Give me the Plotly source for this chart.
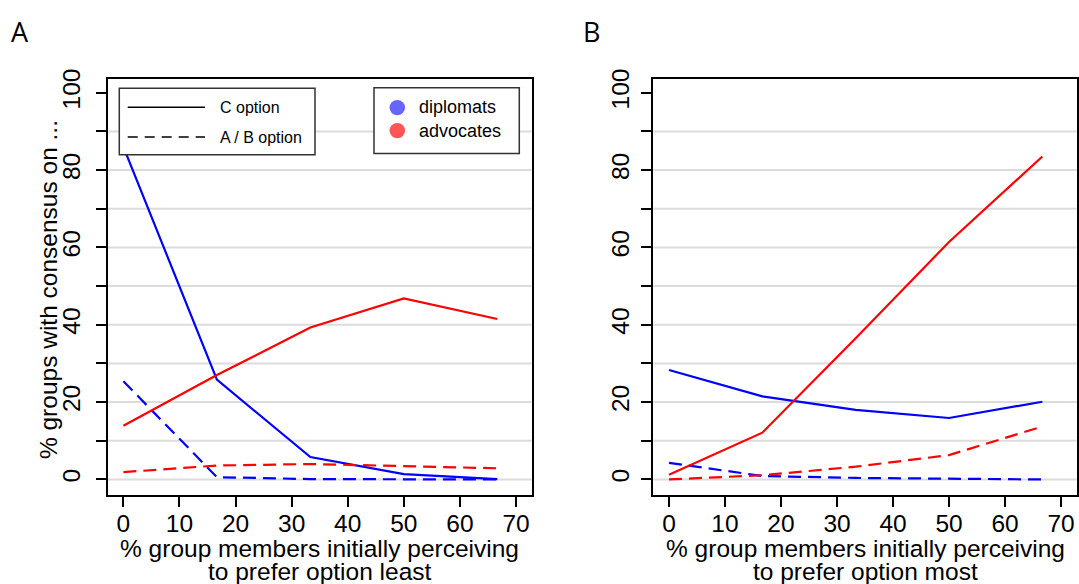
import plotly.graph_objects as go

# ---- data -----------------------------------------------------------------
x_pct = [0, 16.67, 33.33, 50, 66.67]

# Panel A: % members initially perceiving to prefer option least
a_dipl_c = [86.0, 25.8, 5.8, 1.4, 0.1]
a_dipl_ab = [25.4, 0.6, 0.1, 0.0, 0.0]
a_adv_c = [13.9, 27.0, 39.3, 46.8, 41.5]
a_adv_ab = [1.9, 3.6, 4.0, 3.5, 2.9]

# Panel B: % members initially perceiving to prefer option most
b_dipl_c = [28.3, 21.5, 18.0, 15.9, 20.1]
b_dipl_ab = [4.3, 0.9, 0.4, 0.2, 0.0]
b_adv_c = [1.2, 12.1, 36.5, 61.4, 83.5]
b_adv_ab = [0.0, 1.1, 3.3, 6.3, 13.7]

x_ticks = [0, 10, 20, 30, 40, 50, 60, 70]
y_ticks = [0, 10, 20, 30, 40, 50, 60, 70, 80, 90, 100]
y_ticktext = ["0", "", "20", "", "40", "", "60", "", "80", "", "100"]
grid_vals = [0, 10, 20, 30, 40, 50, 60, 70, 80, 90]

x_title_a = ["% group members initially perceiving", "to prefer option least"]
x_title_b = ["% group members initially perceiving", "to prefer option most"]
y_title = "% groups with consensus on ..."

# ---- styling --------------------------------------------------------------
W, H = 1079, 584
FONT = "Liberation Sans, Arial, sans-serif"
BLUE, RED = "#0000ff", "#ff0000"
DASH = "13px,7px"


def px(x):
    return x / W


def py(y):
    return 1 - y / H


fig = go.Figure()

series = [
    ("x", "y", a_dipl_c, BLUE, "solid"),
    ("x", "y", a_dipl_ab, BLUE, DASH),
    ("x", "y", a_adv_c, RED, "solid"),
    ("x", "y", a_adv_ab, RED, DASH),
    ("x2", "y2", b_dipl_c, BLUE, "solid"),
    ("x2", "y2", b_dipl_ab, BLUE, DASH),
    ("x2", "y2", b_adv_c, RED, "solid"),
    ("x2", "y2", b_adv_ab, RED, DASH),
]
for xa, ya, vals, col, dash in series:
    fig.add_trace(go.Scatter(
        x=x_pct, y=vals, xaxis=xa, yaxis=ya, mode="lines",
        line=dict(color=col, width=2.2, dash=dash),
        showlegend=False, hoverinfo="skip",
    ))

dom_y = [py(493), py(70)]
axis_common = dict(
    showline=True, mirror=True, linecolor="black", linewidth=2,
    ticks="outside", ticklen=10, tickwidth=2, tickcolor="black",
    showgrid=False, zeroline=False,
    tickfont=dict(family=FONT, size=24.5, color="black"),
)

fig.update_layout(
    width=W, height=H,
    margin=dict(l=0, r=0, t=0, b=0),
    paper_bgcolor="white", plot_bgcolor="white",
    showlegend=False,
    xaxis=dict(domain=[px(107.7), px(531.7)], range=[-2.8, 72.8],
               tickvals=x_ticks, anchor="y", ticklabelstandoff=-4, **axis_common),
    yaxis=dict(domain=dom_y, range=[-3.9, 103.6], tickvals=y_ticks,
               ticktext=y_ticktext, tickangle=-90, anchor="x",
               ticklabelstandoff=6, **axis_common),
    xaxis2=dict(domain=[px(653.3), px(1076.7)], range=[-2.8, 72.8],
                tickvals=x_ticks, anchor="y2", ticklabelstandoff=-4, **axis_common),
    yaxis2=dict(domain=dom_y, range=[-3.9, 103.6], tickvals=y_ticks,
                ticktext=y_ticktext, tickangle=-90, anchor="x2",
                ticklabelstandoff=3, **axis_common),
)

shapes = []
# horizontal grid lines behind the data
for xr, yr in (("x domain", "y"), ("x2 domain", "y2")):
    for g in grid_vals:
        shapes.append(dict(type="line", xref=xr, yref=yr, x0=0, x1=1, y0=g, y1=g,
                           line=dict(color="#dcdcdc", width=2), layer="below"))

# legend for line type
shapes.append(dict(type="rect", xref="paper", yref="paper",
                   x0=px(119.3), x1=px(315), y0=py(147.3), y1=py(79.5),
                   line=dict(color="#333333", width=1.5), fillcolor="white", layer="above"))
shapes.append(dict(type="line", xref="paper", yref="paper",
                   x0=px(127.7), x1=px(205), y0=py(99), y1=py(99),
                   line=dict(color="black", width=1.5), layer="above"))
shapes.append(dict(type="line", xref="paper", yref="paper",
                   x0=px(127.7), x1=px(205), y0=py(129.3), y1=py(129.3),
                   line=dict(color="black", width=1.5, dash="10px,7px"), layer="above"))

# legend for agent type
shapes.append(dict(type="rect", xref="paper", yref="paper",
                   x0=px(374), x1=px(519.3), y0=py(146), y1=py(79),
                   line=dict(color="#333333", width=1.5), fillcolor="white", layer="above"))
for cy, col in ((99.3, "#6666ff"), (122.7, "#ff5555")):
    r = 7.8
    shapes.append(dict(type="circle", xref="paper", yref="paper",
                       x0=px(397.3 - r), x1=px(397.3 + r), y0=py(cy + r), y1=py(cy - r),
                       line=dict(width=0), fillcolor=col, layer="above"))

fig.update_layout(shapes=shapes)

ann = []


def text(x, y, s, size, xanchor="center", angle=0, family=FONT):
    ann.append(dict(xref="paper", yref="paper", x=px(x), y=py(y), text=s,
                    showarrow=False, xanchor=xanchor, yanchor="middle",
                    textangle=angle, font=dict(family=family, size=size, color="black")))


text(218, 99, "C option", 16, "left")
text(218, 129.5, "A / B option", 16, "left")
text(416.5, 99, "diplomats", 18, "left")
text(416.5, 123, "advocates", 18, "left")

text(9, 22, "A", 27, "left", family="Open Sans, sans-serif")
text(581, 22, "B", 27, "left", family="Open Sans, sans-serif")

text(48, 285, y_title, 24.5, angle=-90)
cx_a = (107.7 + 531.7) / 2
cx_b = (653.3 + 1076.7) / 2
# two-line axis captions, set tightly under each panel
text(cx_a, 548, x_title_a[0], 24.5)
text(cx_a, 571, x_title_a[1], 24.5)
text(cx_b, 548, x_title_b[0], 24.5)
text(cx_b, 571, x_title_b[1], 24.5)

fig.update_layout(annotations=ann)

fig.write_html("out.html")
